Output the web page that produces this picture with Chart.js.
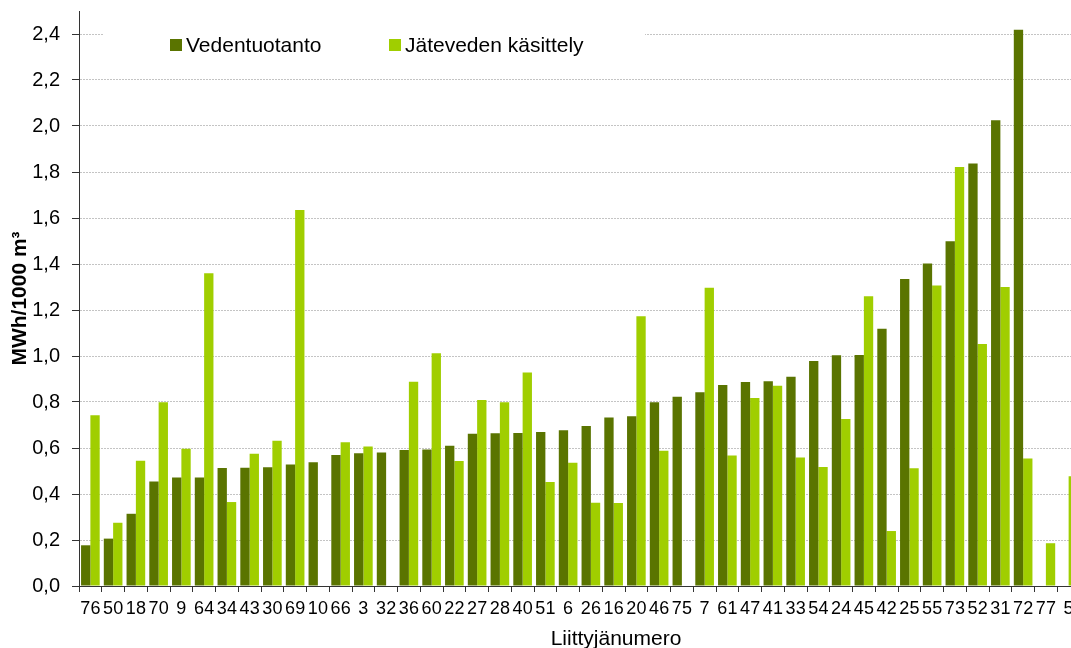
<!DOCTYPE html>
<html>
<head>
<meta charset="utf-8">
<script src="https://cdn.jsdelivr.net/npm/chart.js@4/dist/chart.umd.min.js"></script>
<style>
  html, body { margin: 0; padding: 0; background: #fff; overflow: hidden; width: 1071px; height: 648px; }
  #wrap { position: relative; width: 1080px; height: 648px; }
  canvas { display: block; }
</style>
</head>
<body>
<div id="wrap"><canvas id="c" width="1080" height="648"></canvas></div>
<script>
const categories = ['76','50','18','70','9','64','34','43','30','69','10','66','3','32','36','60','22','27','28','40','51','6','26','16','20','46','75','7','61','47','41','33','54','24','45','42','25','55','73','52','31','72','77','5'];

const vedentuotanto = [0.177,0.206,0.314,0.454,0.472,0.472,0.513,0.514,0.516,0.528,
  0.538,0.570,0.577,0.580,0.591,0.593,0.610,0.662,0.664,0.665,
  0.670,0.677,0.696,0.733,0.738,0.799,0.823,0.842,0.874,0.887,
  0.890,0.910,0.978,1.003,1.004,1.119,1.335,1.402,1.499,1.837,
  2.025,2.419,null,null];

const jatevedenKasittely = [0.742,0.275,0.545,0.799,0.597,1.360,0.365,0.575,0.632,1.635,
  null,0.625,0.607,null,0.888,1.012,0.543,0.809,0.799,0.928,
  0.452,0.536,0.362,0.361,1.173,0.588,null,1.297,0.567,0.817,
  0.871,0.559,0.517,0.726,1.260,0.239,0.512,1.307,1.822,1.052,
  1.300,0.554,0.186,0.477];

const seriesNames = ['Vedentuotanto', 'Jäteveden käsittely'];
const yTicks = [0, 0.2, 0.4, 0.6, 0.8, 1.0, 1.2, 1.4, 1.6, 1.8, 2.0, 2.2, 2.4];
const yTitle = 'MWh/1000 m³';
const xTitle = 'Liittyjänumero';

const FONT = '"Liberation Sans", Arial, sans-serif';
const DARK = '#5a7400';
const LIGHT = '#a0ce00';

const insideLegend = {
  id: 'insideLegend',
  afterDraw(chart) {
    const ctx = chart.ctx;
    ctx.save();
    // legend box background (covers the top gridline, like the original)
    ctx.fillStyle = '#ffffff';
    ctx.fillRect(103, 27, 542, 16);
    const xs = [170, 389];
    ctx.font = '21px ' + FONT;
    ctx.textBaseline = 'alphabetic';
    ctx.textAlign = 'left';
    chart.data.datasets.forEach((ds, i) => {
      ctx.fillStyle = ds.backgroundColor;
      ctx.fillRect(xs[i], 39, 12, 12);
      ctx.fillStyle = '#000';
      ctx.fillText(ds.label, xs[i] + 16, 52);
    });
    // x axis title
    ctx.font = '21px ' + FONT;
    ctx.textAlign = 'center';
    ctx.fillStyle = '#000';
    ctx.fillText(xTitle, 616, 645);
    ctx.restore();
  }
};

new Chart(document.getElementById('c'), {
  type: 'bar',
  data: {
    labels: categories,
    datasets: [
      { label: seriesNames[0], data: vedentuotanto, backgroundColor: DARK, borderWidth: 0,
        categoryPercentage: 0.82, barPercentage: 1.0 },
      { label: seriesNames[1], data: jatevedenKasittely, backgroundColor: LIGHT, borderWidth: 0,
        categoryPercentage: 0.82, barPercentage: 1.0 }
    ]
  },
  options: {
    responsive: false,
    animation: false,
    devicePixelRatio: 1,
    layout: { padding: { left: 0, right: 0, top: 11, bottom: 0 } },
    plugins: {
      legend: { display: false },
      tooltip: { enabled: false },
      title: { display: false }
    },
    scales: {
      x: {
        type: 'category',
        offset: true,
        grid: { offset: true, drawOnChartArea: false, drawTicks: true, tickLength: 6, tickColor: '#333', color: '#333' },
        border: { display: true, color: '#333', width: 1 },
        ticks: { color: '#000', font: { family: FONT, size: 18 }, autoSkip: false, maxRotation: 0, minRotation: 0, padding: 6 },
        title: { display: false },
        afterFit(scale) { scale.height = 62; scale.paddingLeft = 0; scale.paddingRight = 0; }
      },
      y: {
        min: 0,
        max: 2.5,
        afterBuildTicks(scale) { scale.ticks = yTicks.map(v => ({ value: v })); },
        grid: { color: '#c4c4c4', lineWidth: 1, drawTicks: true, tickLength: 7, tickColor: '#333' },
        border: { display: true, color: '#333', width: 1, dash: [2, 1] },
        ticks: {
          color: '#000', font: { family: FONT, size: 20 }, padding: 12,
          callback: (v) => Number(v).toFixed(1).replace('.', ',')
        },
        title: {
          display: true, text: yTitle, color: '#000',
          font: { family: FONT, size: 21, weight: 'bold' },
          padding: { top: 8, bottom: 0 }
        },
        afterFit(scale) { scale.width = 79; scale.paddingTop = 0; scale.paddingBottom = 0; }
      }
    }
  },
  plugins: [insideLegend]
});
</script>
</body>
</html>
